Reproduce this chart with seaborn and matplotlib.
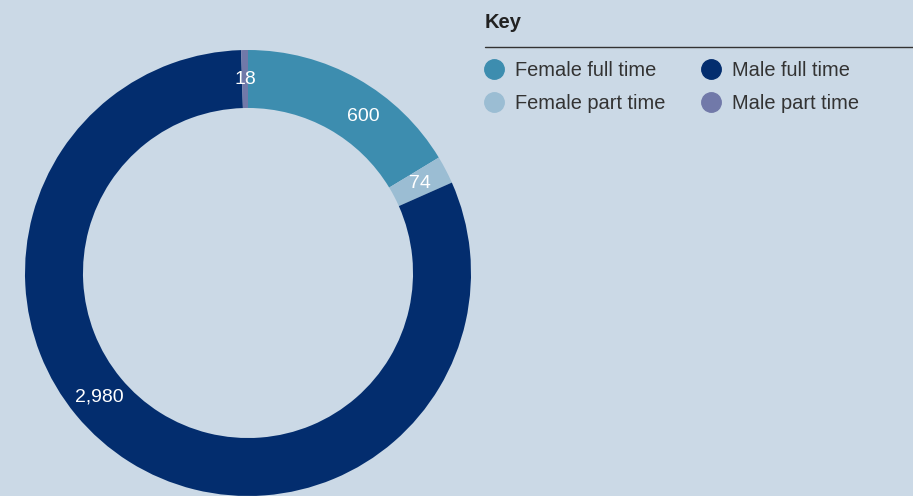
import matplotlib
matplotlib.use("Agg")
import matplotlib.pyplot as plt
from matplotlib.lines import Line2D
import seaborn as sns
import numpy as np

categories = ["Female full time", "Female part time", "Male full time", "Male part time"]
values = [600, 74, 2980, 18]
value_labels = ["600", "74", "2,980", "18"]
colors = ["#3d8daf", "#9bbdd3", "#032d6e", "#7179a9"]
label_angle_shift = [7, 0, 18, 0]  # degrees, clockwise shift of label from wedge middle

BG = "#cbd9e6"
sns.set_theme(style="white", rc={"figure.facecolor": BG, "axes.facecolor": BG})
plt.rcParams["font.family"] = ["Liberation Sans", "DejaVu Sans"]

fig = plt.figure(figsize=(9.13, 4.96), dpi=100)
ax = fig.add_axes([25 / 913, 0 / 496, 446 / 913, 446 / 496])
ax.set_facecolor(BG)

wedges, _ = ax.pie(values, colors=colors, startangle=90, counterclock=False,
                   radius=1.0, wedgeprops=dict(width=0.26, linewidth=0))
for w in wedges:
    w.set_clip_on(False)
ax.set_xlim(-1, 1)
ax.set_ylim(-1, 1)
ax.set_aspect("equal")
ax.axis("off")

total = sum(values)
cum = 0
for v, lab, sh in zip(values, value_labels, label_angle_shift):
    mid = (cum + v / 2) / total * 360 + sh
    cum += v
    theta = np.deg2rad(90 - mid)
    r = 0.87
    ax.text(r * np.cos(theta), r * np.sin(theta), lab, color="white",
            fontsize=14, ha="center", va="center")

fig.text(485 / 913, 1 - 23 / 496, "Key", fontsize=14.5, fontweight="semibold",
         color="#222222", ha="left", va="center")
fig.add_artist(Line2D([485 / 913, 1.0], [1 - 46.5 / 496, 1 - 46.5 / 496],
                      color="#333333", linewidth=1.0, transform=fig.transFigure))

handles = [Line2D([], [], marker="o", linestyle="none", markersize=14,
                  markerfacecolor=c, markeredgecolor=c) for c in colors]
leg = fig.legend(handles, categories, ncol=2, frameon=False,
                 loc="upper left", bbox_to_anchor=(476 / 913, 1 - 53 / 496),
                 fontsize=14.4, handletextpad=0.55, columnspacing=1.8,
                 labelspacing=0.71, handlelength=1.0, borderaxespad=0)
for t in leg.get_texts():
    t.set_color("#333333")

fig.savefig("out.png", dpi=100, facecolor=BG)
